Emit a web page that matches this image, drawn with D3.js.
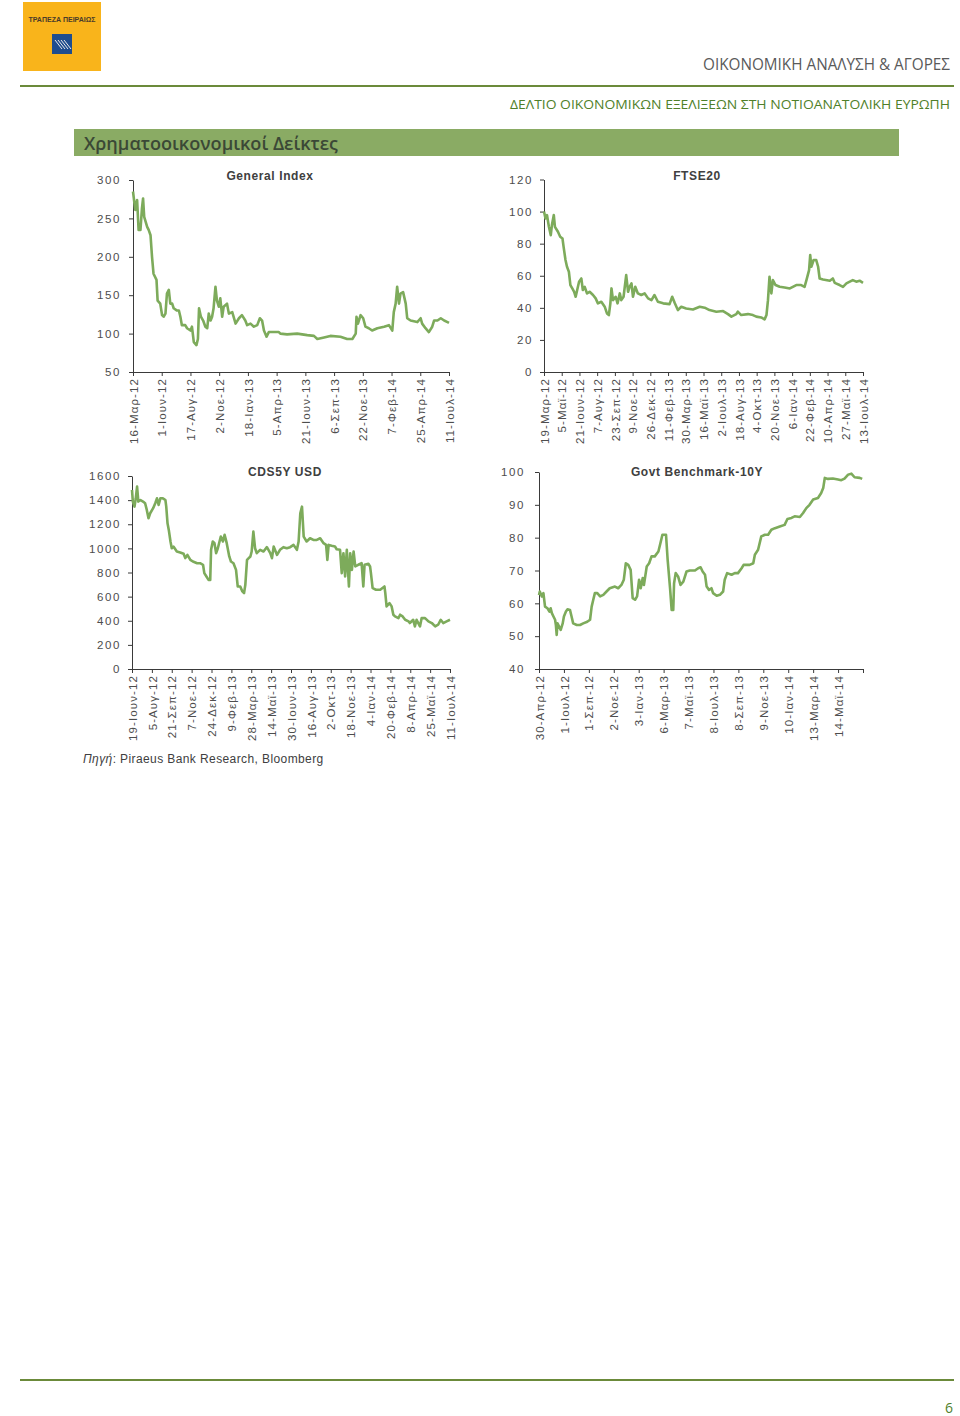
<!DOCTYPE html>
<html>
<head>
<meta charset="utf-8">
<script src="https://cdnjs.cloudflare.com/ajax/libs/d3/7.8.5/d3.min.js"></script>
<style>
body{margin:0;background:#fff}
.chart text{font-family:"Liberation Sans",Arial,sans-serif}
</style>
</head>
<body>
<svg id="page" width="960" height="1416"></svg>
<script>
var svg = d3.select("#page")
var month_names = ["Ιαν","Φεβ","Μαρ","Απρ","Μαϊ","Ιουν","Ιουλ","Αυγ","Σεπ","Οκτ","Νοε","Δεκ"]

// General Index (days counted from first tick date)
var general_ticks = ["16-Μαρ-12","1-Ιουν-12","17-Αυγ-12","2-Νοε-12","18-Ιαν-13","5-Απρ-13","21-Ιουν-13","6-Σεπ-13","22-Νοε-13","7-Φεβ-14","25-Απρ-14","11-Ιουλ-14"]
var general_y_ticks = [50,100,150,200,250,300]
var general_days = [0,6,11,15,20,24,27,30,38,42,47,51,55,63,66,73,78,82,87,91,96,100,105,109,118,123,127,131,140,145,154,158,163,170,174,177,182,188,194,199,203,208,212,216,221,225,230,234,239,243,252,257,266,275,284,292,301,306,315,324,333,340,346,351,358,364,377,391,395,413,440,467,485,494,512,529,556,574,588,597,599,603,610,617,623,632,641,655,673,686,695,699,704,708,713,717,724,731,735,744,762,771,775,784,793,802,807,816,825,834,843,847]
var general_values = [285,261,274,235,235,263,276,252,239,235,228,200,178,170,143,139,124,122,126,152,157,139,139,133,130,130,122,111,111,107,104,109,89,85,93,133,122,117,109,107,126,117,122,133,161,143,135,146,122,135,139,126,128,113,120,124,117,111,113,109,111,120,117,104,96,102,102,102,100,99,100,98,97,93,95,97,96,93,93,100,122,113,124,120,109,107,104,107,109,111,104,128,139,161,139,152,154,139,120,117,115,120,113,107,102,109,117,117,120,117,115,114]

// FTSE20
var ftse_ticks = ["19-Μαρ-12","5-Μαϊ-12","21-Ιουν-12","7-Αυγ-12","23-Σεπ-12","9-Νοε-12","26-Δεκ-12","11-Φεβ-13","30-Μαρ-13","16-Μαϊ-13","2-Ιουλ-13","18-Αυγ-13","4-Οκτ-13","20-Νοε-13","6-Ιαν-14","22-Φεβ-14","10-Απρ-14","27-Μαϊ-14","13-Ιουλ-14"]
var ftse_y_ticks = [0,20,40,60,80,100,120]
var ftse_days = [0,4,8,13,18,21,26,29,37,43,49,52,57,61,66,70,75,80,84,88,93,99,103,108,114,121,130,137,143,152,161,167,172,176,179,183,190,195,201,205,211,218,223,227,232,236,242,249,258,267,276,285,293,302,316,333,340,347,355,364,377,395,413,426,439,457,475,488,497,510,514,523,541,554,563,576,585,590,594,598,603,607,614,625,638,652,660,669,682,691,696,703,706,709,715,722,727,731,740,758,766,771,784,793,802,811,819,828,837,846]
var ftse_values = [100,95.7,97.8,90.5,85.3,91.6,97.8,90.5,87.4,84.3,83.2,78,69.8,65.6,62.5,54.2,52.1,50,46.9,51.1,56.3,58.3,51.1,53.1,49,50,48,45.9,42.8,43.8,40.7,36.5,35.5,42.8,52.1,44.8,46.9,42.8,49,44.8,46.9,60.4,50,53.1,55.2,46.9,53.1,49,48,49,45.9,44.8,48,43.8,42.8,42.3,46.9,42.8,38.6,40.7,39.6,39,40.7,40.1,38.6,37.6,38,36.1,34.5,36.1,37.6,35.5,36.1,35.5,34.5,34,32.8,35.5,44.8,59.4,49,57.3,54.2,53.1,52.7,52.1,53.1,54.2,54.2,53.1,57.3,63.5,72.9,65.6,69.8,69.8,65.6,58.3,57.7,56.9,58.3,55.6,54.2,53.1,55.2,56.3,57.3,56.3,56.9,55.6]

// CDS 5Y USD
var cds_ticks = ["19-Ιουν-12","5-Αυγ-12","21-Σεπ-12","7-Νοε-12","24-Δεκ-12","9-Φεβ-13","28-Μαρ-13","14-Μαϊ-13","30-Ιουν-13","16-Αυγ-13","2-Οκτ-13","18-Νοε-13","4-Ιαν-14","20-Φεβ-14","8-Απρ-14","25-Μαϊ-14","11-Ιουλ-14"]
var cds_y_ticks = [0,200,400,600,800,1000,1200,1400,1600]
var cds_days = [0,2,6,9,12,15,20,26,31,35,39,43,50,55,59,63,67,73,79,81,84,87,91,94,98,106,114,122,126,131,138,144,154,161,168,171,176,181,185,187,191,195,199,203,207,210,215,219,224,230,234,240,246,250,256,261,265,268,272,276,280,283,287,291,295,303,311,319,327,331,335,343,350,358,366,374,382,390,394,398,402,406,413,421,429,437,445,453,459,462,465,472,480,484,492,496,500,504,508,513,516,520,524,528,535,543,547,550,559,563,565,569,577,587,597,599,602,609,614,618,622,630,634,640,646,654,657,665,669,673,681,685,693,701,709,717,724,730,736,744,752]
var cds_values = [1484,1388,1346,1415,1512,1388,1401,1388,1374,1319,1250,1291,1333,1374,1415,1360,1415,1415,1401,1346,1208,1153,1057,1001,1015,974,966,955,919,946,905,891,877,877,864,795,767,739,739,988,1057,1043,960,1001,1057,1098,1057,1112,1043,933,891,877,822,684,684,643,629,698,905,919,933,974,1139,1001,960,988,974,1010,960,919,1015,946,988,1010,1001,1010,1029,988,1057,1291,1346,1098,1057,1084,1070,1070,1084,1043,1029,905,1029,1021,1015,993,988,795,960,767,988,684,960,822,974,850,864,877,684,864,872,850,795,670,657,657,684,629,519,546,519,450,436,422,450,436,408,395,381,408,353,408,353,422,422,395,381,353,367,408,381,395,408]

// Govt Benchmark 10Y
var govt_ticks = ["30-Απρ-12","1-Ιουλ-12","1-Σεπ-12","2-Νοε-12","3-Ιαν-13","6-Μαρ-13","7-Μαϊ-13","8-Ιουλ-13","8-Σεπ-13","9-Νοε-13","10-Ιαν-14","13-Μαρ-14","14-Μαϊ-14",""]
var govt_axis_end = "15-Ιουλ-14"
var govt_y_ticks = [40,50,60,70,80,90,100]
var govt_days = [0,2,7,11,15,21,26,29,32,36,40,42,44,46,50,54,59,62,67,71,77,81,85,94,102,110,120,127,131,135,139,145,152,160,168,176,189,197,205,211,216,222,228,233,239,244,249,253,258,261,268,274,280,288,297,302,307,316,320,326,330,334,336,340,346,352,359,367,375,388,396,402,407,413,417,423,429,433,442,450,458,462,468,479,487,495,504,509,524,533,537,545,553,562,570,578,587,599,611,618,628,636,649,657,665,673,682,694,702,707,711,719,731,744,752,760,769,777,785,798,804]
var govt_values = [62.5,63.6,62.1,63.1,59,58.5,57.5,58.5,57,56,55,53.4,50.4,53.9,52.9,51.9,53.9,56,57.5,58.2,58,56,53.9,53.4,53.4,53.9,54.4,55,59,61.1,63.1,63.1,62.1,62.6,63.6,64.6,65.1,64.6,65.6,67.2,72.2,71.7,70.2,61.6,61.1,62.1,67.2,64.6,67.7,65.6,71.2,72.2,74.3,74.3,75.8,78.3,80.9,80.9,73.3,64.6,58,58,66.1,69.2,68.2,65.6,66.6,69.7,70,70,70.7,71,69.7,68.7,65.1,64.1,64.6,63.1,62.3,62.6,63.6,67.2,69.2,68.7,69.2,69.2,70.7,71.7,71.7,72.2,74.8,76.3,80.4,80.9,80.9,82.4,82.9,83.4,83.9,85.7,86,86.5,86.3,87.5,89,90,91.6,92.1,93.6,95.1,98.2,97.9,98,97.7,97.5,98,99.2,99.5,98.4,98.2,97.9]

var line_color = "#7dab5b"
var axis_color = "#3a3a3a"
var text_color = "#4d4d4d"

function parse_label(s){
    var p = s.split("-")
    return new Date(2000 + (+p[2]), month_names.indexOf(p[1]), +p[0])
}

var charts = [
    {title:"General Index", ticks:general_ticks, end:null, y_ticks:general_y_ticks, days:general_days, values:general_values,
     left:133, right:449, top:180, bottom:372, pad:8, title_x:270, title_y:180},
    {title:"FTSE20", ticks:ftse_ticks, end:null, y_ticks:ftse_y_ticks, days:ftse_days, values:ftse_values,
     left:544, right:863, top:179.5, bottom:372, pad:7, title_x:697, title_y:180},
    {title:"CDS5Y USD", ticks:cds_ticks, end:null, y_ticks:cds_y_ticks, days:cds_days, values:cds_values,
     left:132, right:450, top:476, bottom:669, pad:7, title_x:285, title_y:476},
    {title:"Govt Benchmark-10Y", ticks:govt_ticks, end:govt_axis_end, y_ticks:govt_y_ticks, days:govt_days, values:govt_values,
     left:539, right:863, top:472, bottom:669, pad:10, title_x:697, title_y:476}
]

function draw_chart(c){
    var g = svg.append("g").attr("class","chart")
    var labels = c.ticks.filter(function(d){return d != ""})
    var tick_dates = labels.map(parse_label)
    var start = tick_dates[0]
    var end = c.end ? parse_label(c.end) : tick_dates[tick_dates.length-1]
    if(c.end){ tick_dates.push(end) }

    var x = d3.scaleTime().domain([start, end]).range([c.left, c.right])
    var y = d3.scaleLinear().domain(d3.extent(c.y_ticks)).range([c.bottom, c.top])

    var y_axis = g.append("g")
        .attr("transform","translate(" + c.left + ",0)")
        .call(d3.axisLeft(y).tickValues(c.y_ticks).tickSize(4).tickSizeOuter(0).tickPadding(c.pad)
            .tickFormat(d3.format("d")))
    y_axis.selectAll("text")
        .attr("fill", text_color)
        .attr("font-size", 11.5)
        .attr("letter-spacing", 1.6)
    y_axis.selectAll("line,path").attr("stroke", axis_color)

    var x_axis = g.append("g")
        .attr("transform","translate(0," + c.bottom + ")")
        .call(d3.axisBottom(x).tickValues(tick_dates).tickSize(4).tickSizeOuter(0)
            .tickFormat(function(d,i){ return labels[i] || "" }))
    x_axis.selectAll("text")
        .attr("transform","rotate(-90)")
        .attr("text-anchor","end")
        .attr("x",-6)
        .attr("y",0)
        .attr("dy","0.36em")
        .attr("fill", text_color)
        .attr("font-size", 11.5)
        .attr("letter-spacing", 1.1)
    x_axis.selectAll("line,path").attr("stroke", axis_color)

    var pts = c.days.map(function(d,i){ return {date: d3.timeDay.offset(start, d), v: c.values[i]} })
    var line = d3.line().x(function(d){return x(d.date)}).y(function(d){return y(d.v)})
    g.append("path")
        .datum(pts)
        .attr("d", line)
        .attr("fill","none")
        .attr("stroke", line_color)
        .attr("stroke-width", 2.6)
        .attr("stroke-linejoin","round")

    g.append("text")
        .attr("x", c.title_x)
        .attr("y", c.title_y)
        .attr("text-anchor","middle")
        .attr("font-size", 12)
        .attr("font-weight","bold")
        .attr("letter-spacing", 0.6)
        .attr("fill", "#404040")
        .text(c.title)
}

// page header
var logo = svg.append("g")
logo.append("rect").attr("x",23).attr("y",2).attr("width",78).attr("height",69).attr("fill","#f9b41b")
logo.append("text").attr("x",62).attr("y",22).attr("text-anchor","middle")
    .attr("font-family","Liberation Sans Narrow, Liberation Sans, sans-serif").attr("font-size",7).attr("font-weight","bold")
    .attr("fill","#4a3b2a").text("ΤΡΑΠΕΖΑ ΠΕΙΡΑΙΩΣ")
logo.append("rect").attr("x",52).attr("y",34).attr("width",20).attr("height",20).attr("fill","#1e4d8f")
for(var i = 0; i < 4; i++){
    logo.append("line").attr("x1",55 + i*3).attr("y1",40).attr("x2",62 + i*3).attr("y2",49)
        .attr("stroke","#e8e8e8").attr("stroke-width",1)
}

svg.append("text").attr("x",950).attr("y",70).attr("text-anchor","end")
    .attr("font-family","Open Sans, sans-serif").attr("font-size",15.5).attr("fill","#5a5a5a")
    .attr("textLength",247).attr("lengthAdjust","spacingAndGlyphs")
    .text("ΟΙΚΟΝΟΜΙΚΗ ΑΝΑΛΥΣΗ & ΑΓΟΡΕΣ")
svg.append("line").attr("x1",20).attr("x2",954).attr("y1",86).attr("y2",86)
    .attr("stroke","#6b8a3a").attr("stroke-width",2)
svg.append("text").attr("x",950).attr("y",109).attr("text-anchor","end")
    .attr("font-family","Open Sans, sans-serif").attr("font-size",13.5).attr("fill","#4f7f2a")
    .attr("textLength",440).attr("lengthAdjust","spacingAndGlyphs")
    .text("ΔΕΛΤΙΟ ΟΙΚΟΝΟΜΙΚΩΝ ΕΞΕΛΙΞΕΩΝ ΣΤΗ ΝΟΤΙΟΑΝΑΤΟΛΙΚΗ ΕΥΡΩΠΗ")
svg.append("rect").attr("x",74).attr("y",129).attr("width",825).attr("height",27).attr("fill","#8aab64")
svg.append("text").attr("x",84).attr("y",150)
    .attr("font-family","Open Sans, sans-serif").attr("font-size",18.5).attr("font-weight",600).attr("fill","#3b4836")
    .attr("textLength",254).attr("lengthAdjust","spacingAndGlyphs")
    .text("Χρηματοοικονομικοί Δείκτες")

charts.forEach(draw_chart)

var source = svg.append("text").attr("x",83).attr("y",763)
    .attr("font-family","Liberation Sans, Arial, sans-serif").attr("font-size",12).attr("fill","#404040")
    .attr("letter-spacing",0.4)
source.append("tspan").attr("font-style","italic").text("Πηγή")
source.append("tspan").text(": Piraeus Bank Research, Bloomberg")

// footer
svg.append("line").attr("x1",20).attr("x2",954).attr("y1",1380).attr("y2",1380)
    .attr("stroke","#6b8a3a").attr("stroke-width",2)
svg.append("text").attr("x",953).attr("y",1413).attr("text-anchor","end")
    .attr("font-family","Open Sans, sans-serif").attr("font-size",14).attr("fill","#4f7f2a").text("6")
</script>
</body>
</html>
